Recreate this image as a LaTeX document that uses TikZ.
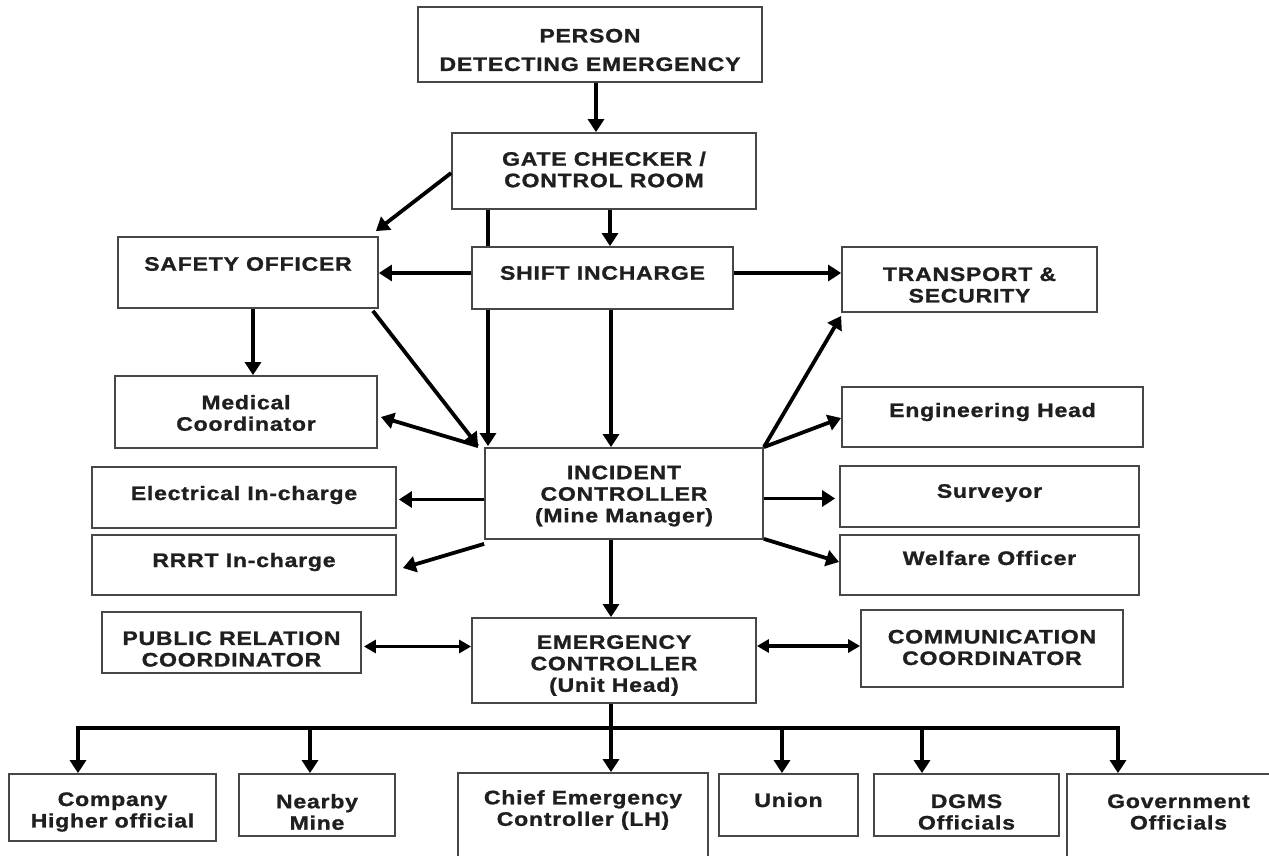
\documentclass[tikz,border=0pt]{standalone}
\usepackage{fontspec}
\newfontfamily\bxfont{Liberation Sans}[FakeStretch=1.18, LetterSpace=4, BoldFeatures={FakeBold=1.2}]
\usetikzlibrary{arrows.meta,calc}
\tikzset{
  box/.style={draw=black!72, line width=1.8pt, fill=white, rectangle, inner sep=0pt},
  txt/.style={font=\bxfont\bfseries\fontsize{19.5}{21.5}\selectfont, text=black!88, align=center, inner sep=0pt},
  arr/.style={line width=3.8pt, -{Triangle[length=13pt,width=16pt]}},
  darr/.style={line width=3.2pt, {Triangle[length=12pt,width=13pt]}-{Triangle[length=12pt,width=13pt]}},
  bus/.style={line width=3.8pt}
}
\newcommand{\bx}[7]{%
  \node[box, minimum width={(#4-#2)*1pt}, minimum height={(#5-#3)*1pt},
    label={[txt, yshift={((#3+#5)/2-#6)*1pt}]center:{#7}}] (#1) at ({(#2+#4)/2},{-(#3+#5)/2}) {};}
\begin{document}
\begin{tikzpicture}[x=1pt,y=1pt]
\fill[white] (0,0) rectangle (1269,-856);
\clip (0,0) rectangle (1269,-856);
% boxes
\bx{person}{418}{7}{762}{82}{50}{PERSON\\[7pt]DETECTING EMERGENCY}
\bx{gate}{452}{133}{756}{209}{169.5}{GATE CHECKER /\\CONTROL ROOM}
\bx{shift}{472}{247}{733}{309}{273}{SHIFT INCHARGE}
\bx{safety}{118}{237}{378}{308}{264}{SAFETY OFFICER}
\bx{transport}{842}{247}{1097}{312}{285}{TRANSPORT \&\\SECURITY}
\bx{medical}{115}{376}{377}{448}{413}{Medical\\Coordinator}
\bx{incident}{485}{448}{763}{539}{496}{INCIDENT\\CONTROLLER\\(Mine Manager)}
\bx{electrical}{92}{467}{396}{528}{495}{Electrical In-charge}
\bx{rrrt}{92}{535}{396}{595}{562}{RRRT In-charge}
\bx{engineering}{842}{387}{1143}{447}{412}{Engineering Head}
\bx{surveyor}{840}{466}{1139}{527}{493}{Surveyor}
\bx{welfare}{840}{535}{1139}{595}{558}{Welfare Officer}
\bx{public}{102}{612}{361}{673}{649}{PUBLIC RELATION\\COORDINATOR}
\bx{emergency}{472}{618}{756}{703}{665.5}{EMERGENCY\\CONTROLLER\\(Unit Head)}
\bx{communication}{861}{610}{1123}{687}{647.5}{COMMUNICATION\\COORDINATOR}
\bx{company}{9}{774}{216}{841}{812}{Company\\Higher official}
\bx{nearby}{239}{774}{395}{836}{812}{Nearby\\Mine}
\bx{chief}{458}{773}{708}{880}{810}{Chief Emergency\\Controller (LH)}
\bx{union}{719}{774}{858}{836}{800}{Union}
\bx{dgms}{874}{774}{1059}{836}{812}{DGMS\\Officials}
\bx{govt}{1067}{774}{1290}{880}{812}{Government\\Officials}
% helper coordinates
\coordinate (lx) at (488,0);
\coordinate (mx) at (611,0);
\coordinate (gx) at (610,0);
\coordinate (px) at (596,0);
\coordinate (sx) at (253,0);
\coordinate (b1) at (78,-728);
\coordinate (b2) at (310,-728);
\coordinate (b3) at (611,-728);
\coordinate (b4) at (782,-728);
\coordinate (b5) at (922,-728);
\coordinate (b6) at (1118,-728);
% connectors
\draw[arr] (person.south -| px) -- (gate.north -| px);
\draw[arr] ([yshift=-2]gate.west) -- ([xshift=-3,yshift=5]safety.north east);
\draw[arr] (gate.south -| gx) -- (shift.north -| gx);
\draw[line width=3.8pt] (gate.south -| lx) -- (shift.north -| lx);
\draw[arr] (shift.south -| lx) -- ([yshift=1]incident.north -| lx);
\draw[arr] ([yshift=5]shift.west) -- ([yshift=5]shift.west -| safety.east);
\draw[arr] ([yshift=5]shift.east) -- ([yshift=5]shift.east -| transport.west);
\draw[arr] (safety.south -| sx) -- (medical.north -| sx);
\draw[arr] ([xshift=-6,yshift=-2]safety.south east) -- ([xshift=-6,yshift=1]incident.north west);
\draw[arr] ([xshift=-6,yshift=1]incident.north west) -- ([xshift=3,yshift=-5]medical.east);
\draw[arr] (shift.south -| mx) -- (incident.north -| mx);
\draw[arr] ([yshift=-2]electrical.east -| incident.west) -- ([xshift=2,yshift=-2]electrical.east);
\draw[arr] ([yshift=-4]incident.south west) -- ([xshift=6,yshift=-3]rrrt.east);
\draw[arr] (incident.north east) -- ([yshift=-3]transport.south west);
\draw[arr] (incident.north east) -- ([yshift=-1]engineering.west);
\draw[arr] ([yshift=-2]surveyor.west -| incident.east) -- ([xshift=-4,yshift=-2]surveyor.west);
\draw[arr] ([yshift=1]incident.south east) -- ([yshift=3]welfare.west);
\draw[arr] (incident.south -| mx) -- (emergency.north -| mx);
\draw[darr] ([xshift=2,yshift=-4]public.east) -- ([yshift=-4]public.east -| emergency.west);
\draw[darr] ([yshift=2.5]communication.west -| emergency.east) -- ([yshift=2.5]communication.west);
% bus
\draw[bus] (emergency.south -| mx) -- (b3);
\draw[bus] ([xshift=-1.9]b1) -- ([xshift=1.9]b6);
\draw[arr] (b1) -- (b1 |- company.north);
\draw[arr] (b2) -- (b2 |- nearby.north);
\draw[arr] (b3) -- (b3 |- chief.north);
\draw[arr] (b4) -- (b4 |- union.north);
\draw[arr] (b5) -- (b5 |- dgms.north);
\draw[arr] (b6) -- (b6 |- govt.north);
\end{tikzpicture}
\end{document}
